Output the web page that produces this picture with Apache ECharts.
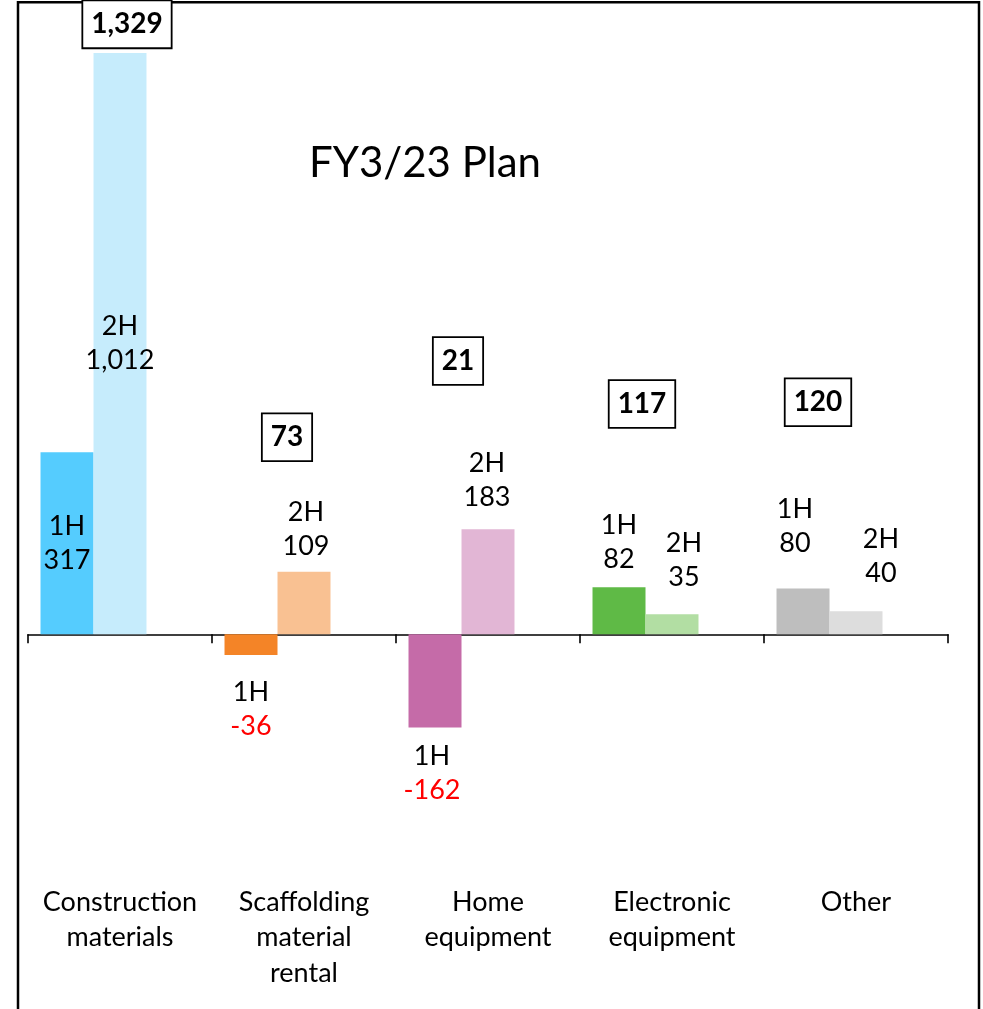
<!DOCTYPE html>
<html>
<head>
<meta charset="utf-8">
<script src="https://cdn.jsdelivr.net/npm/echarts@6/dist/echarts.min.js"></script>
<style>
html,body{margin:0;padding:0;background:#fff;}
#main{width:983px;height:1009px;}
</style>
</head>
<body>
<div id="main"></div>
<script>
// ---- data ----
const categories = ['Construction\nmaterials', 'Scaffolding\nmaterial\nrental', 'Home\nequipment', 'Electronic\nequipment', 'Other'];
const firstHalf = [317, -36, -162, 82, 80];
const secondHalf = [1012, 109, 183, 35, 40];
const fullYear = [1329, 73, 21, 117, 120];
const halfTags = ['1H', '2H'];
const titleText = 'FY3/23 Plan';

// ---- styles / layout ----
const colors1H = ['#55CCFE', '#F48427', '#C56BA8', '#5FBA46', '#BEBEBE'];
const colors2H = ['#C6ECFC', '#F9C192', '#E2B6D5', '#B2DEA3', '#DDDDDD'];
const labelLayout1H = [
  {position: 'inside', distance: 0, dx: 0},
  {position: 'bottom', distance: 20, dx: 0},
  {position: 'bottom', distance: 12, dx: -3},
  {position: 'top', distance: 11, dx: 0},
  {position: 'top', distance: 28, dx: -8}
];
const labelLayout2H = [
  {position: 'inside', distance: 0, dx: 0},
  {position: 'top', distance: 8, dx: 2},
  {position: 'top', distance: 15, dx: -1},
  {position: 'top', distance: 20, dx: 12},
  {position: 'top', distance: 21, dx: 25}
];
// annotation anchors for the full-year boxes (value-axis units, pixel x shift from the hidden bar)
const totalAnchorY = [1062, 343, 476, 401, 404];
const totalDx = [-46, -70, -83, -83, -91];

const FONT = 'Lato';
const fmt = v => v.toLocaleString('en-US');

function halfData(values, tag, colors, layout) {
  return values.map((v, i) => ({
    value: v,
    itemStyle: {color: colors[i]},
    label: {
      show: true,
      position: layout[i].position,
      distance: layout[i].distance,
      offset: [layout[i].dx, 0],
      formatter: () => v < 0 ? '{t|' + tag + '}\n{n|' + fmt(v) + '}' : '{t|' + tag + '}\n{p|' + fmt(v) + '}',
      rich: {
        t: {fontFamily: FONT, fontSize: 27, lineHeight: 34, color: '#000'},
        p: {fontFamily: FONT, fontSize: 27, lineHeight: 34, color: '#000'},
        n: {fontFamily: FONT, fontSize: 27, lineHeight: 34, color: '#FF0000'}
      }
    }
  }));
}

const chart = echarts.init(document.getElementById('main'), null, {renderer: 'canvas'});
const option = {
  animation: false,
  backgroundColor: '#fff',
  title: {
    text: titleText,
    left: 420, top: 137,
    textAlign: 'center',
    textStyle: {fontFamily: FONT, fontSize: 42, fontWeight: 'normal', color: '#000'}
  },
  graphic: [{
    type: 'rect',
    shape: {x: 18, y: 2.3, width: 961, height: 1100},
    style: {fill: 'none', stroke: '#000', lineWidth: 2.5},
    z: 0, silent: true
  }],
  grid: {left: 28, right: 35, top: 2.5, bottom: 144.9, containLabel: false},
  xAxis: [{
    type: 'category',
    data: categories,
    position: 'bottom',
    axisLine: {show: true, onZero: true, lineStyle: {color: '#000', width: 1.6}},
    axisTick: {show: true, length: 9, alignWithLabel: false, lineStyle: {color: '#000', width: 1.6}},
    axisLabel: {show: false},
    splitLine: {show: false}
  }, {
    type: 'category',
    data: categories,
    position: 'bottom',
    axisLine: {show: false, onZero: false},
    axisTick: {show: false},
    axisLabel: {show: true, interval: 0, margin: 20, fontFamily: FONT, fontSize: 27, lineHeight: 35.5, color: '#000', align: 'center'},
    splitLine: {show: false}
  }],
  yAxis: {
    type: 'value', min: -400, max: 1100,
    show: false, splitLine: {show: false}
  },
  series: [{
    name: halfTags[0], type: 'bar', xAxisIndex: 0,
    barGap: '0%', barCategoryGap: '13.6%',
    data: halfData(firstHalf, halfTags[0], colors1H, labelLayout1H),
    z: 3
  }, {
    name: halfTags[1], type: 'bar', xAxisIndex: 0,
    barGap: '0%', barCategoryGap: '13.6%',
    data: halfData(secondHalf, halfTags[1], colors2H, labelLayout2H),
    z: 3
  }, {
    name: 'FY', type: 'bar', xAxisIndex: 0,
    barGap: '0%', barCategoryGap: '13.6%',
    data: fullYear,
    itemStyle: {color: 'rgba(0,0,0,0)'},
    label: {show: false},
    silent: true,
    z: 5,
    markPoint: {
      symbol: 'rect', symbolSize: 1,
      itemStyle: {color: 'rgba(0,0,0,0)'},
      silent: true,
      data: fullYear.map((v, i) => ({
        coord: [i, totalAnchorY[i]],
        value: v,
        label: {
          show: true, position: 'inside', offset: [totalDx[i], 0],
          formatter: () => fmt(v),
          fontFamily: FONT, fontSize: 28, fontWeight: 'bold', lineHeight: 29, color: '#000',
          backgroundColor: '#fff', borderColor: '#000', borderWidth: 1.8,
          padding: [9, 8, 8, 8]
        }
      }))
    }
  }]
};
chart.setOption(option);
</script>
</body>
</html>
